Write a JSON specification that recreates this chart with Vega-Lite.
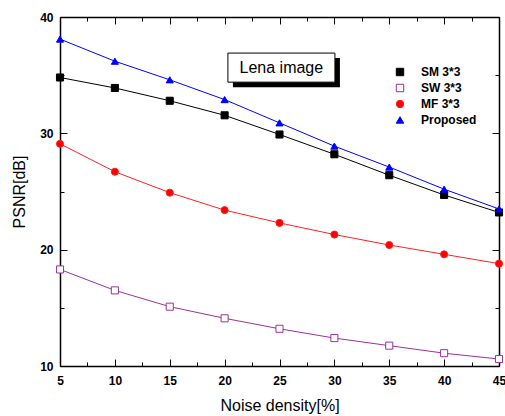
{
  "$schema": "https://vega.github.io/schema/vega-lite/v6.json",
  "width": 439,
  "height": 349,
  "autosize": {"type": "none"},
  "padding": {"left": 60, "top": 17, "right": 6, "bottom": 50},
  "background": "white",
  "config": {
    "view": {"stroke": null},
    "font": "Liberation Sans",
    "axis": {
      "domainColor": "black",
      "domainWidth": 1.5,
      "tickColor": "black",
      "tickWidth": 1,
      "grid": false,
      "labelFont": "Liberation Sans",
      "labelFontSize": 12,
      "labelFontWeight": "bold",
      "labelColor": "black",
      "titleFont": "Liberation Sans",
      "titleFontSize": 16,
      "titleFontWeight": "normal",
      "titleColor": "black"
    }
  },
  "data": {
    "values": [
      {"series": "SM 3*3", "noise": 5, "psnr": 34.8},
      {"series": "SM 3*3", "noise": 10, "psnr": 33.9},
      {"series": "SM 3*3", "noise": 15, "psnr": 32.8},
      {"series": "SM 3*3", "noise": 20, "psnr": 31.55},
      {"series": "SM 3*3", "noise": 25, "psnr": 29.9},
      {"series": "SM 3*3", "noise": 30, "psnr": 28.2},
      {"series": "SM 3*3", "noise": 35, "psnr": 26.4},
      {"series": "SM 3*3", "noise": 40, "psnr": 24.7},
      {"series": "SM 3*3", "noise": 45, "psnr": 23.2},
      {"series": "SW 3*3", "noise": 5, "psnr": 18.3},
      {"series": "SW 3*3", "noise": 10, "psnr": 16.5},
      {"series": "SW 3*3", "noise": 15, "psnr": 15.1},
      {"series": "SW 3*3", "noise": 20, "psnr": 14.1},
      {"series": "SW 3*3", "noise": 25, "psnr": 13.2},
      {"series": "SW 3*3", "noise": 30, "psnr": 12.4},
      {"series": "SW 3*3", "noise": 35, "psnr": 11.75},
      {"series": "SW 3*3", "noise": 40, "psnr": 11.1},
      {"series": "SW 3*3", "noise": 45, "psnr": 10.6},
      {"series": "MF 3*3", "noise": 5, "psnr": 29.1},
      {"series": "MF 3*3", "noise": 10, "psnr": 26.7},
      {"series": "MF 3*3", "noise": 15, "psnr": 24.9},
      {"series": "MF 3*3", "noise": 20, "psnr": 23.4},
      {"series": "MF 3*3", "noise": 25, "psnr": 22.3},
      {"series": "MF 3*3", "noise": 30, "psnr": 21.3},
      {"series": "MF 3*3", "noise": 35, "psnr": 20.4},
      {"series": "MF 3*3", "noise": 40, "psnr": 19.6},
      {"series": "MF 3*3", "noise": 45, "psnr": 18.8},
      {"series": "Proposed", "noise": 5, "psnr": 38.1},
      {"series": "Proposed", "noise": 10, "psnr": 36.2},
      {"series": "Proposed", "noise": 15, "psnr": 34.6},
      {"series": "Proposed", "noise": 20, "psnr": 32.9},
      {"series": "Proposed", "noise": 25, "psnr": 30.9},
      {"series": "Proposed", "noise": 30, "psnr": 28.9},
      {"series": "Proposed", "noise": 35, "psnr": 27.1},
      {"series": "Proposed", "noise": 40, "psnr": 25.2},
      {"series": "Proposed", "noise": 45, "psnr": 23.5}
    ]
  },
  "layer": [
    {
      "mark": {"type": "line", "strokeWidth": 1},
      "encoding": {
        "x": {"field": "noise", "type": "quantitative", "scale": {"domain": [5, 45], "nice": false, "zero": false}, "axis": null},
        "y": {"field": "psnr", "type": "quantitative", "scale": {"domain": [10, 40], "nice": false, "zero": false}, "axis": null},
        "color": {
          "field": "series", "type": "nominal",
          "scale": {"domain": ["SM 3*3", "SW 3*3", "MF 3*3", "Proposed"], "range": ["#000000", "#993399", "#ff2020", "#0000ff"]},
          "legend": {
            "orient": "none", "legendX": 334, "legendY": 49, "title": null, "padding": 0,
            "symbolSize": 55, "symbolStrokeWidth": 1,
            "labelFont": "Liberation Sans", "labelFontSize": 12, "labelFontWeight": "bold", "labelColor": "black",
            "labelOffset": 15, "rowPadding": 4,
            "encode": {"symbols": {"update": {
              "stroke": {"signal": "datum.value === 'SM 3*3' ? '#000000' : datum.value === 'SW 3*3' ? '#993399' : datum.value === 'MF 3*3' ? '#ff2020' : '#0000ff'"},
              "fill": {"signal": "datum.value === 'SM 3*3' ? '#000000' : datum.value === 'SW 3*3' ? '#ffffff' : datum.value === 'MF 3*3' ? '#ff0000' : '#0000ff'"},
              "strokeWidth": {"value": 1},
              "opacity": {"value": 1}
            }}}
          }
        }
      }
    },
    {
      "mark": {"type": "point", "filled": false, "opacity": 1, "strokeWidth": 1, "size": 50},
      "encoding": {
        "x": {"field": "noise", "type": "quantitative", "axis": {"orient": "bottom", "title": "Noise density[%]", "values": [5, 7.5, 10, 12.5, 15, 17.5, 20, 22.5, 25, 27.5, 30, 32.5, 35, 37.5, 40, 42.5, 45], "labelExpr": "datum.value % 5 === 0 ? datum.label : ''", "tickSize": {"condition": {"test": "datum.value % 5 === 0", "value": -7}, "value": -4}, "labelPadding": 16, "titlePadding": 11, "labelFlush": false}},
        "y": {"field": "psnr", "type": "quantitative", "axis": {"orient": "left", "title": "PSNR[dB]", "values": [10, 15, 20, 25, 30, 35, 40], "labelExpr": "datum.value % 10 === 0 ? datum.label : ''", "tickSize": {"condition": {"test": "datum.value % 10 === 0", "value": -7}, "value": -4}, "labelPadding": 14, "titlePadding": 12, "labelFlush": false}},
        "color": {
          "field": "series", "type": "nominal",
          "legend": {
            "orient": "none", "legendX": 334, "legendY": 49, "title": null, "padding": 0,
            "symbolSize": 55, "symbolStrokeWidth": 1,
            "labelFont": "Liberation Sans", "labelFontSize": 12, "labelFontWeight": "bold", "labelColor": "black",
            "labelOffset": 15, "rowPadding": 4,
            "encode": {"symbols": {"update": {
              "stroke": {"signal": "datum.value === 'SM 3*3' ? '#000000' : datum.value === 'SW 3*3' ? '#993399' : datum.value === 'MF 3*3' ? '#ff2020' : '#0000ff'"},
              "fill": {"signal": "datum.value === 'SM 3*3' ? '#000000' : datum.value === 'SW 3*3' ? '#ffffff' : datum.value === 'MF 3*3' ? '#ff0000' : '#0000ff'"},
              "strokeWidth": {"value": 1},
              "opacity": {"value": 1}
            }}}
          }
        },
        "fill": {
          "field": "series", "type": "nominal",
          "scale": {"domain": ["SM 3*3", "SW 3*3", "MF 3*3", "Proposed"], "range": ["#000000", "#ffffff", "#ff0000", "#0000ff"]},
          "legend": {
            "orient": "none", "legendX": 334, "legendY": 49, "title": null, "padding": 0,
            "symbolSize": 55, "symbolStrokeWidth": 1,
            "labelFont": "Liberation Sans", "labelFontSize": 12, "labelFontWeight": "bold", "labelColor": "black",
            "labelOffset": 15, "rowPadding": 4,
            "encode": {"symbols": {"update": {
              "stroke": {"signal": "datum.value === 'SM 3*3' ? '#000000' : datum.value === 'SW 3*3' ? '#993399' : datum.value === 'MF 3*3' ? '#ff2020' : '#0000ff'"},
              "fill": {"signal": "datum.value === 'SM 3*3' ? '#000000' : datum.value === 'SW 3*3' ? '#ffffff' : datum.value === 'MF 3*3' ? '#ff0000' : '#0000ff'"},
              "strokeWidth": {"value": 1},
              "opacity": {"value": 1}
            }}}
          }
        },
        "shape": {
          "field": "series", "type": "nominal",
          "scale": {"domain": ["SM 3*3", "SW 3*3", "MF 3*3", "Proposed"], "range": ["square", "square", "circle", "triangle-up"]},
          "legend": {
            "orient": "none", "legendX": 334, "legendY": 49, "title": null, "padding": 0,
            "symbolSize": 55, "symbolStrokeWidth": 1,
            "labelFont": "Liberation Sans", "labelFontSize": 12, "labelFontWeight": "bold", "labelColor": "black",
            "labelOffset": 15, "rowPadding": 4,
            "encode": {"symbols": {"update": {
              "stroke": {"signal": "datum.value === 'SM 3*3' ? '#000000' : datum.value === 'SW 3*3' ? '#993399' : datum.value === 'MF 3*3' ? '#ff2020' : '#0000ff'"},
              "fill": {"signal": "datum.value === 'SM 3*3' ? '#000000' : datum.value === 'SW 3*3' ? '#ffffff' : datum.value === 'MF 3*3' ? '#ff0000' : '#0000ff'"},
              "strokeWidth": {"value": 1},
              "opacity": {"value": 1}
            }}}
          }
        }
      }
    },
    {
      "mark": {"type": "point", "opacity": 0},
      "encoding": {
        "x": {"field": "noise", "type": "quantitative", "axis": {"orient": "top", "title": null, "labels": false, "values": [5, 7.5, 10, 12.5, 15, 17.5, 20, 22.5, 25, 27.5, 30, 32.5, 35, 37.5, 40, 42.5, 45], "tickSize": {"condition": {"test": "datum.value % 5 === 0", "value": -7}, "value": -4}}},
        "y": {"field": "psnr", "type": "quantitative", "axis": {"orient": "right", "title": null, "labels": false, "values": [10, 15, 20, 25, 30, 35, 40], "tickSize": {"condition": {"test": "datum.value % 10 === 0", "value": -7}, "value": -4}}}
      }
    },
    {
      "data": {"values": [{"label": "Lena image"}]},
      "mark": {"type": "rect", "fill": "black", "xOffset": 5, "x2Offset": 5, "yOffset": 5, "y2Offset": 5},
      "encoding": {
        "x": {"datum": 20.3, "type": "quantitative", "axis": null},
        "x2": {"datum": 30.05},
        "y": {"datum": 36.9, "type": "quantitative", "axis": null},
        "y2": {"datum": 34.4}
      }
    },
    {
      "data": {"values": [{"label": "Lena image"}]},
      "mark": {"type": "rect", "fill": "white", "stroke": "black", "strokeWidth": 1},
      "encoding": {
        "x": {"datum": 20.3, "type": "quantitative", "axis": null},
        "x2": {"datum": 30.05},
        "y": {"datum": 36.9, "type": "quantitative", "axis": null},
        "y2": {"datum": 34.4}
      }
    },
    {
      "data": {"values": [{"label": "Lena image"}]},
      "mark": {"type": "text", "font": "Liberation Sans", "fontSize": 16, "color": "black", "align": "center", "baseline": "middle"},
      "encoding": {
        "x": {"datum": 25.17, "type": "quantitative", "axis": null},
        "y": {"datum": 35.65, "type": "quantitative", "axis": null},
        "text": {"field": "label"}
      }
    }
  ],
  "resolve": {"axis": {"x": "independent", "y": "independent"}}
}
